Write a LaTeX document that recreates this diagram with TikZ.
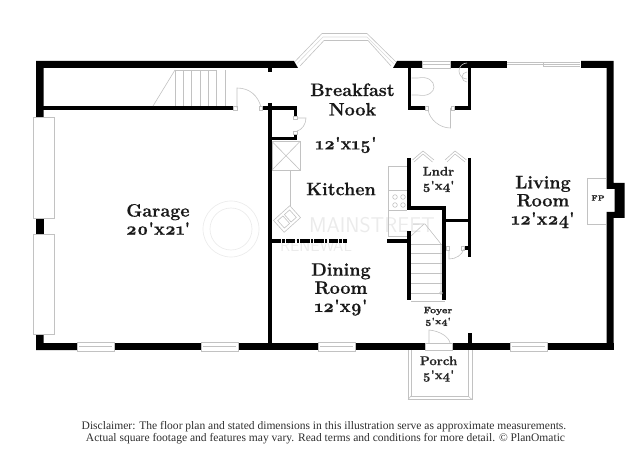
\documentclass[tikz,border=0pt]{standalone}
\usepackage{fontspec}
\setmainfont{Latin Modern Roman}[Numbers=OldStyle,BoldFeatures={FakeBold=0.6}]
\newfontfamily\notefont{Liberation Serif}
\newcommand{\ft}{\textquotesingle}
\begin{document}
\begin{tikzpicture}[x=0.75pt,y=-0.75pt,
    wall/.style={fill=black, draw=none},
    partition/.style={draw=black, line width=2.7pt},
    thin_line/.style={draw=black!24, line width=0.45pt},
    faint/.style={draw=black!8, line width=0.5pt},
    room_label/.style={font=\fontsize{13.5}{13.6}\selectfont\bfseries, align=center, text=black!90},
    small_label/.style={font=\fontsize{8}{9}\selectfont\bfseries, align=center, text=black!85},
    note/.style={font=\notefont\fontsize{8.65}{9}\selectfont, text=black!82}
]
\useasboundingbox (0,0) rectangle (640,460);

% Watermark
\draw[faint] (231,229) circle (28);
\draw[faint] (231,229) circle (21);
\node[font=\fontsize{16}{16}\selectfont\sffamily, text=black!8] (markname) at (372,225) {MAINSTREET};
\node[font=\fontsize{12}{12}\selectfont\sffamily, text=black!8] (markline) at (316,246) {RENEWAL};

% Outer walls
\fill[wall] (36,61) -- (294,61) -- (298,68) -- (43.5,68) -- (43.5,117) -- (36,117) -- cycle;
\fill[wall] (36,217) rectangle (43.5,234);
\fill[wall] (36,334) rectangle (43.5,343) (36,343) rectangle (77,350);
\fill[wall] (114,343) rectangle (201,350);
\fill[wall] (238,343) rectangle (318,350);
\fill[wall] (355,343) rectangle (425.5,350);
\fill[wall] (452,343) rectangle (510,350);
\fill[wall] (547,343) rectangle (613.5,350);
\fill[wall] (397,61) -- (422,61) -- (422,68) -- (393,68) -- cycle;
\fill[wall] (450,61) rectangle (507,68);
\fill[wall] (581,61) -- (613.5,61) -- (613.5,183) -- (624.5,183) -- (624.5,218) -- (613.5,218)
    -- (613.5,343) -- (606.5,343) -- (606.5,212) -- (614.5,212) -- (614.5,189) -- (606.5,189) -- (606.5,68) -- (581,68) -- cycle;

% Partitions
\draw[partition] (43,108) -- (233,108);
\draw[partition] (263,108) -- (295.5,108) -- (295.5,116);
\draw[partition] (270,103) -- (270,343);
\draw[partition] (270,68) -- (270,72);
\draw[partition] (270,138.5) -- (295.5,138.5) -- (295.5,131);
\draw[partition] (409.5,68) -- (409.5,108) -- (425,108);
\draw[partition] (454,108) -- (469.5,108) -- (469.5,68);
\draw[partition] (409,158) -- (409,208) -- (444,208) -- (444,300);
\draw[partition] (409,231) -- (409,300);
\draw[partition] (469.5,158) -- (469.5,257);
\draw[partition] (444,220.5) -- (469.5,220.5);
\draw[partition] (387,240.7) -- (409,240.7);
\draw[partition] (470,333) -- (470,343);
\draw[partition, dash pattern=on 7pt off 0.8pt on 2pt off 0.8pt] (272,240.7) -- (347,240.7);
\fill[wall] (464.5,246) rectangle (468,250);

% Garage doors and windows
\draw[thin_line, fill=white] (33,117) rectangle (54,218);
\draw[thin_line, fill=white] (33,234) rectangle (54,334);
\foreach \xa/\xb in {77/114,201/238,318/355,510/547} {
    \draw[thin_line] (\xa,342.5) rectangle (\xb,351);
    \draw[thin_line] (\xa+2,346.5) -- (\xb-2,346.5);
}
\draw[thin_line] (422,61) rectangle (450,68) (422,64.5) -- (450,64.5);
\draw[thin_line] (507,62) -- (580,62) (507,64.5) -- (580,64.5) (543,63) -- (543,66) -- (580,66);

% Bay window
\draw[thin_line] (295,61.5) -- (322,33.5) -- (367,33.5) -- (396,62);
\draw[thin_line, black!14] (297,63.5) -- (323,37) -- (367,37) -- (394,64);
\draw[thin_line] (300,66) -- (324,40.5) -- (368,40.5) -- (391,66);

% Stairs to the garage
\foreach \x in {175,183.5,191.5,200,208,216.5,225} {
    \draw[thin_line] (\x,70) -- (\x,106);
}
\draw[thin_line] (175,70) -- (216.5,70);
\draw[thin_line] (153,106) -- (175,70);

% Garage entry door
\draw[thin_line, fill=white] (233.5,106.5) rectangle (237,110);
\draw[thin_line, fill=white] (259,106.5) rectangle (262.5,110);
\draw[thin_line] (237,108) -- (237,88) .. controls (250,88) and (258,96) .. (261,107);

% Closet door
\draw[thin_line, fill=white] (293.5,116) rectangle (297,119);
\draw[thin_line, fill=white] (293.5,131) rectangle (297,134);
\draw[thin_line] (297,118) -- (306,118) .. controls (306,124) and (302,130) .. (297,131);

% Half bath
\draw[thin_line] (411.5,78) -- (418,78) .. controls (428,76) and (434,81) .. (434,87)
    .. controls (434,92) and (428,97) .. (418,95) -- (411.5,95);
\draw[thin_line] (467,79) arc (90:270:8);
\draw[thin_line] (467,82) arc (90:270:5);
\draw[thin_line, fill=white] (425,106.5) rectangle (428,110);
\draw[thin_line, fill=white] (451,106.5) rectangle (454,110);
\draw[thin_line] (450.5,108) -- (450.5,128) .. controls (440,128) and (430,120) .. (428,110);

% Laundry doors
\draw[thin_line] (412.5,160) -- (423,151) -- (434,160) (414,162) -- (423,154) -- (432.5,162);
\draw[thin_line] (445,160) -- (455,151) -- (466.5,160) (447,162) -- (455,154) -- (465,162);

% Kitchen fittings
\draw[thin_line] (272,141.5) rectangle (300,170);
\draw[thin_line] (272,141.5) -- (300,170) (272,170) -- (300,141.5);
\draw[thin_line] (290,170) -- (290,206);
\draw[thin_line, rotate around={42:(287,219)}] (276,211) rectangle (298,227);
\draw[thin_line, rotate around={42:(287,219)}] (279,214) rectangle (286,224) (288,214) rectangle (295,224);
\draw[thin_line] (388,166.5) -- (407,166.5) (388,166.5) -- (388,236.5) -- (407,236.5);
\draw[thin_line] (388,190) -- (407,190) (388,210) -- (407,210);
\foreach \x in {395,403} {
    \foreach \y in {197,205} {
        \draw[thin_line] (\x,\y) circle (2.3);
    }
}

% Main stairs
\foreach \y in {244,253,263,273,283,293} {
    \draw[thin_line] (411,\y) -- (442,\y);
}
\draw[thin_line] (411,301.5) -- (445,301.5);
\draw[thin_line] (413,224) -- (425,224) -- (441,244) -- (441,293);
\draw[thin_line] (411,236) -- (424,224);
\draw[thin_line] (441,293) circle (1.5);

% Closet door under the stairs
\draw[thin_line, fill=white] (446,246) rectangle (449.5,250);
\draw[thin_line] (449,250) -- (449,259) .. controls (456,259) and (462,255) .. (464,249);
\draw[thin_line] (461,246) rectangle (464.5,250);

% Fireplace
\draw[thin_line] (606,178) -- (587,178) -- (587,224) -- (606,224);

% Front door and porch
\draw[thin_line] (425.5,343) rectangle (452,350);
\draw[thin_line] (429,343) -- (429,330) .. controls (440,331) and (449,337) .. (450,343);
\draw[thin_line] (408,350) -- (408,399.5) -- (472,399.5) -- (472,350);
\draw[thin_line] (411,350) -- (411,396) -- (468,396) -- (468,350);
\draw[thin_line] (408,399.5) -- (411,396) (472,399.5) -- (468,396);

% Room labels
\node[room_label] (breakfast) at (352.5,99.5) {Breakfast\\[1pt]Nook};
\node[room_label] (breakfastsize) at (346,145) {12\ft x15\ft};
\node[room_label] (kitchen) at (341,189) {Kitchen};
\node[room_label] (garage) at (158,219.5) {Garage\\20\ft x21\ft};
\node[room_label] (living) at (543,202) {Living\\Room\\12\ft x24\ft};
\node[room_label] (dining) at (341,289.5) {Dining\\Room\\12\ft x9\ft};
\node[small_label, font=\fontsize{9.4}{10.5}\selectfont\bfseries] (laundry) at (438.5,179.5) {Lndr\\5\ft x4\ft};
\node[small_label, font=\fontsize{7}{8.2}\selectfont\bfseries] (foyer) at (438,316.5) {Foyer\\5\ft x4\ft};
\node[small_label, font=\fontsize{9.6}{10.5}\selectfont\bfseries] (porch) at (438.5,369) {Porch\\5\ft x4\ft};
\node[small_label, font=\fontsize{5.6}{6}\selectfont\bfseries] (fireplace) at (598,198) {FP};

% Disclaimer
\node[note] (disclaimer1) at (324,426.5) {Disclaimer: The floor plan and stated dimensions in this illustration serve as approximate measurements.};
\node[note] (disclaimer2) at (325.5,439) {Actual square footage and features may vary. Read terms and conditions for more detail. © PlanOmatic};
\end{tikzpicture}
\end{document}
